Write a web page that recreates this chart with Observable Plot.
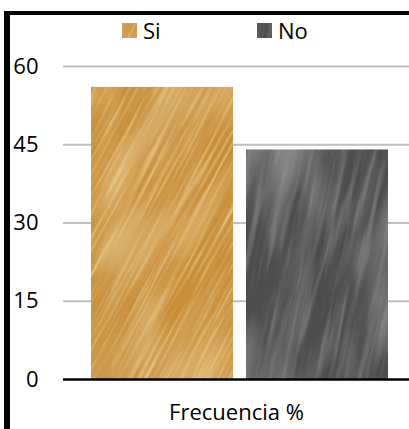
<!DOCTYPE html>
<html>
<head>
<meta charset="utf-8">
<script src="https://cdn.jsdelivr.net/npm/d3@7"></script>
<script src="https://cdn.jsdelivr.net/npm/@observablehq/plot@0.6"></script>
<style>
  html, body { margin: 0; padding: 0; background: #fff; }
  #wrap { position: relative; width: 409px; height: 429px; overflow: hidden; font-family: 'Open Sans', sans-serif; }
  .bt { position: absolute; left: 4px; top: 11px; width: 405px; height: 4px; background: #000; }
  .bl { position: absolute; left: 4px; top: 11px; width: 6px; height: 418px; background: #000; }
  .leg { position: absolute; top: 15px; height: 30px; display: flex; align-items: center; font-size: 22px; color: #000; }
  .leg svg { margin-right: 6px; }
  #chart { position: absolute; left: 0; top: 45px; }
</style>
</head>
<body>
<div id="wrap">
  <div class="bt"></div>
  <div class="bl"></div>
  <div id="legend"></div>
  <div id="chart"></div>
</div>
<script>
const categories = ["Frecuencia %"];
const series = ["Si", "No"];
const values = [56, 44];
const yTicks = [0, 15, 30, 45, 60];

const data = series.map((s, i) => ({cat: categories[0], series: s, value: values[i]}));

const chart = Plot.plot({
  width: 409,
  height: 384,
  marginTop: 21,
  marginBottom: 50,
  marginLeft: 63,
  marginRight: 0,
  style: {fontFamily: "'Open Sans', sans-serif", fontSize: "22px", color: "#000", background: "transparent", overflow: "visible"},
  fx: {domain: categories, padding: 0, label: null, axis: "bottom", tickSize: 0, tickPadding: 25},
  x: {domain: series, paddingInner: 0.084, paddingOuter: 0.1355, insetLeft: 7, axis: null},
  y: {domain: [0, 60], ticks: yTicks, tickSize: 0, tickPadding: 25, label: null},
  color: {domain: series, range: ["url(#tex-si)", "url(#tex-no)"]},
  marks: [
    Plot.ruleY(yTicks.filter(t => t > 0), {stroke: "#bfbfbf", strokeWidth: 2}),
    Plot.barY(data, {fx: "cat", x: "series", y: "value", fill: "series"}),
    Plot.ruleY([0], {stroke: "#000", strokeWidth: 2.5})
  ]
});

const svg = d3.select(chart.tagName.toLowerCase() === "svg" ? chart : chart.querySelector("svg"));
const defs = svg.insert("defs", ":first-child");

function addFilter(id, freq, seed, rgb, a, b, oct) {
  const f = defs.append("filter").attr("id", id)
    .attr("x", "-10%").attr("y", "-10%").attr("width", "120%").attr("height", "120%");
  f.append("feTurbulence").attr("type", "fractalNoise").attr("baseFrequency", freq)
    .attr("numOctaves", oct).attr("seed", seed);
  f.append("feColorMatrix").attr("type", "matrix")
    .attr("values", `0 0 0 0 ${rgb[0]}  0 0 0 0 ${rgb[1]}  0 0 0 0 ${rgb[2]}  ${a} 0 0 0 ${b}`);
}

function addTexture(id, base, light, dark, angle, freqStreak, freqBlob, sA, sB, bA, bB) {
  addFilter(id + "-l", freqStreak, 7, light, sA, sB, 4);
  addFilter(id + "-d", freqStreak, 13, dark, sA, sB, 4);
  addFilter(id + "-b", freqBlob, 3, light, bA, bB, 2);
  addFilter(id + "-bd", freqBlob, 21, dark, bA, bB, 2);
  const p = defs.append("pattern").attr("id", id)
    .attr("patternUnits", "userSpaceOnUse").attr("width", 409).attr("height", 429);
  p.append("rect").attr("width", 409).attr("height", 429).attr("fill", base);
  const gb = p.append("g").attr("transform", `rotate(${angle} 200 200)`);
  gb.append("rect").attr("x", -250).attr("y", -250).attr("width", 900).attr("height", 900).attr("filter", `url(#${id}-b)`);
  gb.append("rect").attr("x", -250).attr("y", -250).attr("width", 900).attr("height", 900).attr("filter", `url(#${id}-bd)`);
  const g = p.append("g").attr("transform", `rotate(${angle} 200 200)`);
  g.append("rect").attr("x", -250).attr("y", -250).attr("width", 900).attr("height", 900).attr("filter", `url(#${id}-d)`);
  g.append("rect").attr("x", -250).attr("y", -250).attr("width", 900).attr("height", 900).attr("filter", `url(#${id}-l)`);
}

addTexture("tex-si", "#c98e3a", [0.91, 0.74, 0.40], [0.66, 0.43, 0.16], -62, "0.01 0.3", "0.008 0.025", 1.5, -0.72, 1.5, -0.7);
addTexture("tex-no", "#4d4d4d", [0.42, 0.42, 0.42], [0.24, 0.24, 0.24], -78, "0.01 0.15", "0.008 0.025", 1.0, -0.5, 1.6, -0.75);

document.getElementById("chart").appendChild(chart);

// legend
const legendEl = document.getElementById("legend");
const legendPos = [122, 257];
series.forEach((s, i) => {
  const item = document.createElement("div");
  item.className = "leg";
  item.style.left = legendPos[i] + "px";
  item.innerHTML = `<svg width="15" height="15"><rect width="15" height="15" fill="url(#tex-${s.toLowerCase()})"/></svg><span>${s}</span>`;
  legendEl.appendChild(item);
});
</script>
</body>
</html>
